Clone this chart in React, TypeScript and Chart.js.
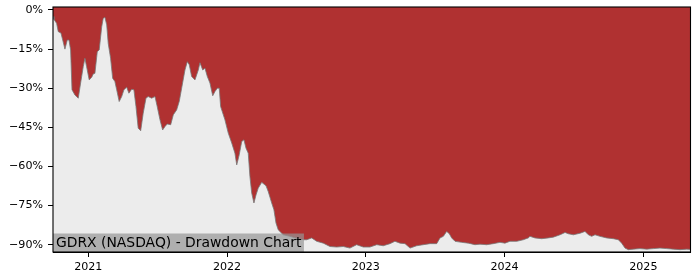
import React, { useEffect, useRef } from "react";
import { Chart, registerables } from "chart.js";

Chart.register(...registerables);

// Dates as decimal years
const years: number[] = [
  2020.746, 2020.753, 2020.772, 2020.784, 2020.803, 2020.816, 2020.832, 2020.849, 2020.861, 2020.873,
  2020.883, 2020.904, 2020.928, 2020.945, 2020.964, 2020.976, 2020.988, 2021.007, 2021.025, 2021.036,
  2021.048, 2021.065, 2021.079, 2021.097, 2021.108, 2021.120, 2021.133, 2021.144, 2021.161, 2021.176,
  2021.192, 2021.205, 2021.223, 2021.241, 2021.257, 2021.277, 2021.293, 2021.313, 2021.329, 2021.344,
  2021.360, 2021.378, 2021.396, 2021.416, 2021.432, 2021.457, 2021.481, 2021.497, 2021.517, 2021.536,
  2021.553, 2021.569, 2021.594, 2021.613, 2021.637, 2021.656, 2021.673, 2021.697, 2021.714, 2021.728,
  2021.745, 2021.769, 2021.793, 2021.805, 2021.825, 2021.841, 2021.858, 2021.877, 2021.897, 2021.913,
  2021.930, 2021.944, 2021.954, 2021.985, 2022.009, 2022.034, 2022.057, 2022.070, 2022.088, 2022.106,
  2022.122, 2022.137, 2022.153, 2022.165, 2022.178, 2022.194, 2022.209, 2022.225, 2022.250, 2022.281,
  2022.297, 2022.322, 2022.338, 2022.353, 2022.369, 2022.405, 2022.454, 2022.497, 2022.550, 2022.574,
  2022.610, 2022.646, 2022.694, 2022.742, 2022.790, 2022.838, 2022.886, 2022.934, 2022.982, 2023.030,
  2023.079, 2023.126, 2023.174, 2023.210, 2023.247, 2023.283, 2023.319, 2023.367, 2023.414, 2023.463,
  2023.511, 2023.535, 2023.559, 2023.583, 2023.602, 2023.619, 2023.643, 2023.691, 2023.739, 2023.787,
  2023.823, 2023.871, 2023.919, 2023.967, 2024.003, 2024.039, 2024.088, 2024.135, 2024.171, 2024.183,
  2024.219, 2024.268, 2024.315, 2024.351, 2024.400, 2024.436, 2024.459, 2024.496, 2024.544, 2024.580,
  2024.604, 2024.628, 2024.652, 2024.688, 2024.736, 2024.784, 2024.820, 2024.844, 2024.868, 2024.892,
  2024.928, 2024.976, 2025.025, 2025.072, 2025.120, 2025.169, 2025.216, 2025.264, 2025.313, 2025.340,
];

// Drawdown in percent
const drawdown: number[] = [
  -2.5, -3.6, -5.1, -8.3, -8.8, -11.5, -15.0, -11.5, -11.5, -15.3,
  -30.6, -32.6, -33.8, -28.0, -21.7, -18.5, -21.7, -26.8, -25.8, -24.5,
  -24.3, -16.0, -15.3, -6.4, -3.2, -2.8, -5.7, -12.8, -18.5, -26.2,
  -27.4, -30.6, -35.1, -33.2, -30.6, -29.6, -31.9, -30.4, -30.6, -37.0,
  -45.3, -46.3, -39.6, -33.8, -33.2, -33.8, -33.2, -37.0, -42.1, -46.0,
  -44.7, -43.7, -44.0, -40.2, -38.3, -35.0, -30.0, -23.0, -19.8, -21.0,
  -25.5, -26.8, -23.0, -20.2, -23.0, -22.3, -25.5, -28.0, -32.9, -31.3,
  -30.0, -30.0, -37.0, -42.1, -47.2, -51.0, -54.9, -59.4, -55.5, -50.4,
  -49.8, -53.0, -54.9, -63.8, -70.2, -74.0, -70.9, -68.3, -66.1, -67.4,
  -69.6, -74.0, -76.6, -81.7, -84.3, -86.2, -86.8, -87.5, -88.1, -88.1,
  -87.4, -88.7, -89.4, -90.7, -90.9, -90.7, -91.3, -90.0, -90.9, -90.9,
  -90.0, -90.4, -89.6, -88.7, -89.4, -89.6, -91.3, -90.4, -90.0, -89.6,
  -89.6, -87.4, -86.8, -84.9, -85.8, -87.4, -88.7, -89.1, -89.4, -90.0,
  -89.8, -90.0, -89.6, -89.1, -89.4, -88.7, -88.7, -88.1, -87.4, -86.8,
  -87.4, -87.7, -87.4, -87.1, -86.2, -85.3, -85.8, -86.2, -85.6, -84.9,
  -86.2, -86.8, -86.2, -86.8, -87.4, -87.7, -88.1, -89.4, -91.3, -91.9,
  -91.7, -91.5, -91.7, -91.5, -91.3, -91.5, -91.7, -91.9, -91.7, -91.8,
];

const yTicks: number[] = [0, -15, -30, -45, -60, -75, -90];
const xTicks: number[] = [2021, 2022, 2023, 2024, 2025];
const xMin = 2020.746;
const xMax = 2025.34;
const yMin = -92.8;
const yMax = 1.15;
const titleText = "GDRX (NASDAQ) - Drawdown Chart";

const FONT = "'DejaVu Sans', sans-serif";

export default function App() {
  const ref = useRef<HTMLCanvasElement | null>(null);

  useEffect(() => {
    const canvas = ref.current;
    if (!canvas) return;

    const bgPlugin = {
      id: "bgPlugin",
      beforeDatasetsDraw(chart: any) {
        const { ctx, chartArea } = chart;
        ctx.save();
        ctx.fillStyle = "#ececec";
        ctx.fillRect(chartArea.left, chartArea.top, chartArea.right - chartArea.left, chartArea.bottom - chartArea.top);
        ctx.restore();
      },
      afterDatasetsDraw(chart: any) {
        const { ctx, chartArea } = chart;
        ctx.save();
        ctx.font = `13.9px ${FONT}`;
        const w = ctx.measureText(titleText).width;
        const boxH = 18.5;
        ctx.fillStyle = "rgba(150,150,150,0.7)";
        ctx.fillRect(chartArea.left, chartArea.bottom - boxH, w + 5.5, boxH);
        ctx.fillStyle = "#000";
        ctx.textBaseline = "alphabetic";
        ctx.textAlign = "left";
        ctx.fillText(titleText, chartArea.left + 3, chartArea.bottom - 5.5);
        // frame
        ctx.strokeStyle = "#000";
        ctx.lineWidth = 1.1;
        ctx.strokeRect(chartArea.left, chartArea.top, chartArea.right - chartArea.left, chartArea.bottom - chartArea.top);
        ctx.restore();
      },
    };

    const chart = new Chart(canvas, {
      type: "line",
      data: {
        datasets: [
          {
            data: years.map((x, i) => ({ x, y: drawdown[i] })),
            borderColor: "rgba(120,120,120,0.8)",
            borderWidth: 1,
            backgroundColor: "#b03131",
            fill: "end",
            pointRadius: 0,
            tension: 0,
          },
        ],
      },
      options: {
        animation: false,
        responsive: false,
        devicePixelRatio: 1,
        layout: { padding: { top: 7, right: 9.5, left: 0, bottom: 0 } },
        plugins: {
          legend: { display: false },
          tooltip: { enabled: false },
          title: { display: false },
        },
        scales: {
          x: {
            type: "linear",
            min: xMin,
            max: xMax,
            afterBuildTicks(scale: any) {
              scale.ticks = xTicks.map((v) => ({ value: v }));
            },
            afterFit(scale: any) {
              scale.height = 28;
              scale.paddingLeft = 0;
              scale.paddingRight = 0;
              scale.paddingTop = 0;
              scale.paddingBottom = 0;
            },
            ticks: {
              color: "#000",
              font: { family: FONT, size: 11.1 },
              padding: 3,
              maxRotation: 0,
              callback: (v: any) => String(v),
            },
            grid: {
              display: true,
              drawOnChartArea: false,
              drawTicks: true,
              tickLength: 5,
              tickColor: "#000",
              color: "#000",
            },
            border: { display: true, color: "#000", width: 1 },
          },
          y: {
            type: "linear",
            min: yMin,
            max: yMax,
            afterBuildTicks(scale: any) {
              scale.ticks = yTicks.map((v) => ({ value: v }));
            },
            afterFit(scale: any) {
              scale.width = 53;
              scale.paddingLeft = 0;
              scale.paddingRight = 0;
              scale.paddingTop = 0;
              scale.paddingBottom = 0;
            },
            ticks: {
              color: "#000",
              font: { family: FONT, size: 11.1 },
              padding: 5,
              callback: (v: any) => (v === 0 ? "0%" : `\u2212${Math.abs(v)}%`),
            },
            grid: {
              display: true,
              drawOnChartArea: false,
              drawTicks: true,
              tickLength: 5,
              tickColor: "#000",
              color: "#000",
            },
            border: { display: true, color: "#000", width: 1 },
          },
        },
      },
      plugins: [bgPlugin],
    } as any);

    return () => chart.destroy();
  }, []);

  return (
    <div style={{ position: "fixed", left: 0, top: 0, width: 700, height: 280, background: "#fff" }}>
      <canvas ref={ref} width={700} height={280} style={{ width: 700, height: 280, display: "block" }} />
    </div>
  );
}
